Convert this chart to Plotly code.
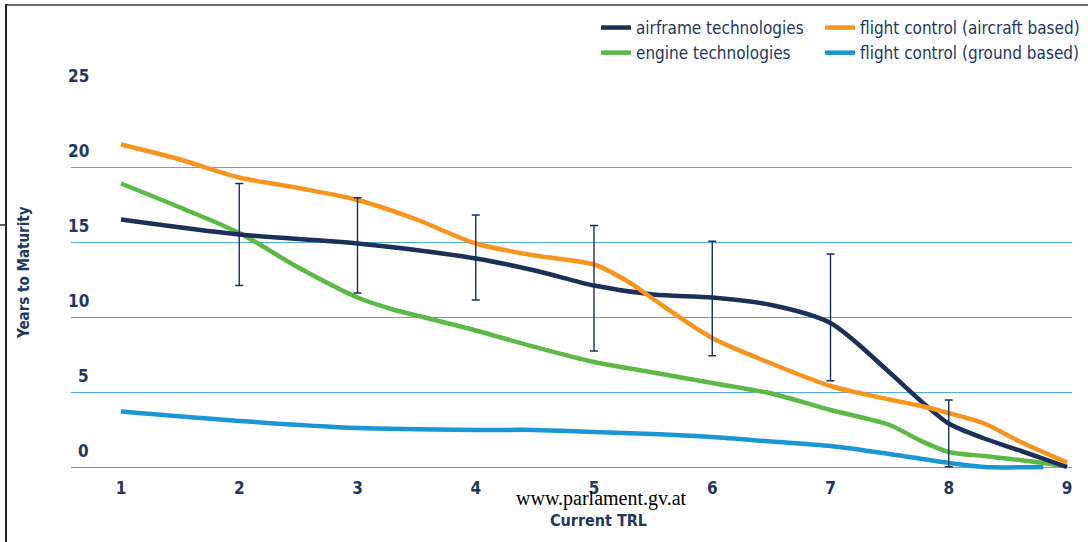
import plotly.graph_objects as go

# ---------------- data ----------------
trl_airframe = [1, 2, 3, 4, 4.5, 5, 5.5, 6, 6.5, 7, 7.5, 7.75, 8, 8.3, 8.6, 9]
yrs_airframe = [16.5, 15.5, 14.9, 13.9, 13.1, 12.1, 11.5, 11.3, 10.8, 9.6, 6.3, 4.5, 2.9, 1.9, 1.1, 0.0]

trl_aircraft = [1, 1.5, 2, 2.5, 3, 3.5, 4, 4.5, 5, 5.3, 5.5, 6, 6.5, 7, 7.5, 7.75, 8, 8.3, 8.6, 9]
yrs_aircraft = [21.5, 20.5, 19.3, 18.6, 17.8, 16.5, 14.9, 14.1, 13.5, 12.3, 11.2, 8.6, 6.9, 5.4, 4.5, 4.1, 3.6, 2.9, 1.7, 0.3]

trl_engine = [1, 1.5, 2, 2.5, 3, 3.3, 3.5, 4, 4.5, 5, 5.5, 6, 6.5, 7, 7.5, 7.75, 8, 8.3, 8.6, 9]
yrs_engine = [18.9, 17.3, 15.6, 13.3, 11.3, 10.5, 10.1, 9.1, 8.0, 7.0, 6.3, 5.6, 4.9, 3.8, 2.8, 1.8, 1.0, 0.73, 0.47, 0.05]

trl_ground = [1, 2, 3, 4, 4.5, 5, 5.5, 6, 6.5, 7, 7.5, 8, 8.3, 8.8]
yrs_ground = [3.7, 3.07, 2.6, 2.47, 2.47, 2.33, 2.2, 2.0, 1.7, 1.4, 0.87, 0.27, 0.0, 0.0]

err_trl = [2, 3, 4, 5, 6, 7, 8]
err_high = [18.9, 17.95, 16.8, 16.1, 15.05, 14.2, 4.47]
err_low = [12.1, 11.6, 11.13, 7.73, 7.42, 5.75, 0.02]

y_ticks = [0, 5, 10, 15, 20, 25]
x_ticks = [1, 2, 3, 4, 5, 6, 7, 8, 9]

# ---------------- style ----------------
NAVY = "#1b3058"
ORANGE = "#f7941e"
GREEN = "#5cb946"
BLUE = "#1a96d5"
TXT = "#22375f"
GRID = "#4fabdf"
COND = "DejaVu Sans Condensed, Liberation Sans, sans-serif"

W, H = 1088, 542
ML, MR, MT, MB = 71, 16, 92, 69
PW, PH = W - ML - MR, H - MT - MB


def px(xp):
    return (xp - ML) / PW


def py(yp):
    return (H - MB - yp) / PH


fig = go.Figure()

LW = 4.5
fig.add_trace(go.Scatter(x=trl_ground, y=yrs_ground, mode="lines", name="flight control (ground based)",
                         line=dict(color=BLUE, width=LW, shape="spline", smoothing=0.8),
                         legend="legend2", legendrank=2))
fig.add_trace(go.Scatter(x=trl_engine, y=yrs_engine, mode="lines", name="engine technologies",
                         line=dict(color=GREEN, width=LW, shape="spline", smoothing=0.8),
                         legend="legend", legendrank=2))
fig.add_trace(go.Scatter(x=trl_airframe, y=yrs_airframe, mode="lines", name="airframe technologies",
                         line=dict(color=NAVY, width=LW, shape="spline", smoothing=0.8),
                         legend="legend", legendrank=1))
fig.add_trace(go.Scatter(x=trl_aircraft, y=yrs_aircraft, mode="lines", name="flight control (aircraft based)",
                         line=dict(color=ORANGE, width=LW, shape="spline", smoothing=0.8),
                         legend="legend2", legendrank=1))

err_mid = [(h + l) / 2 for h, l in zip(err_high, err_low)]
fig.add_trace(go.Scatter(
    x=err_trl, y=err_mid, mode="markers", showlegend=False, hoverinfo="skip",
    marker=dict(size=1, color="rgba(0,0,0,0)"),
    error_y=dict(type="data", symmetric=False,
                 array=[h - m for h, m in zip(err_high, err_mid)],
                 arrayminus=[m - l for m, l in zip(err_mid, err_low)],
                 color=NAVY, thickness=1.4, width=4),
))

# y tick labels (sit above each grid line, right-aligned)
annotations = []
for v in y_ticks:
    annotations.append(dict(x=px(91), xref="paper", y=v, yref="y", yshift=16,
                            text="<b>%d</b>" % v, showarrow=False, xanchor="right", yanchor="middle",
                            font=dict(family=COND, size=17, color=TXT)))

annotations += [
    dict(x=px(601), xref="paper", y=py(498), yref="paper", text="www.parlament.gv.at",
         showarrow=False, xanchor="center", yanchor="middle",
         font=dict(family="Liberation Serif, Times New Roman, serif", size=20, color="#000000")),
    dict(x=px(598), xref="paper", y=py(520), yref="paper", text="<b>Current TRL</b>",
         showarrow=False, xanchor="center", yanchor="middle",
         font=dict(family=COND, size=16, color=TXT)),
    dict(x=px(24), xref="paper", y=py(273), yref="paper", text="<b>Years to Maturity</b>",
         showarrow=False, xanchor="center", yanchor="middle", textangle=-90,
         font=dict(family=COND, size=15, color=TXT)),
]

shapes = [
    dict(type="line", xref="paper", yref="paper", x0=px(6), x1=px(1090), y0=py(5), y1=py(5),
         line=dict(color="#6b6b6b", width=2)),
    dict(type="line", xref="paper", yref="paper", x0=px(6), x1=px(6), y0=py(4), y1=py(545),
         line=dict(color="#222222", width=2)),
    dict(type="line", xref="paper", yref="paper", x0=px(-2), x1=px(6), y0=py(225), y1=py(225),
         line=dict(color="#222222", width=1.5)),
]

legend_common = dict(xref="container", yref="container", xanchor="left", yanchor="top",
                     orientation="v", font=dict(family=COND, size=17, color=TXT),
                     bgcolor="rgba(0,0,0,0)", tracegroupgap=0, itemwidth=30)

fig.update_layout(
    width=W, height=H,
    margin=dict(l=ML, r=MR, t=MT, b=MB, pad=0, autoexpand=False),
    paper_bgcolor="white", plot_bgcolor="white",
    showlegend=True,
    legend=dict(x=596 / W, y=1 - 10 / H, **legend_common),
    legend2=dict(x=820 / W, y=1 - 10 / H, **legend_common),
    xaxis=dict(range=[1 - 50 / 118.25, 9 + 5 / 118.25], tickvals=x_ticks,
               ticktext=["<b>%d</b>" % t for t in x_ticks],
               showgrid=False, zeroline=False, showline=False, ticks="", automargin=False,
               tickfont=dict(family=COND, size=17, color=TXT), ticklabelstandoff=3),
    yaxis=dict(range=[-0.4, 25], tickvals=y_ticks, showticklabels=False, showgrid=True, automargin=False,
               gridcolor=GRID, gridwidth=1, zeroline=False, showline=False, ticks=""),
    annotations=annotations,
    shapes=shapes,
)

fig.write_html("out.html", config={"displayModeBar": False},
               post_script="document.body.style.margin='0';")
